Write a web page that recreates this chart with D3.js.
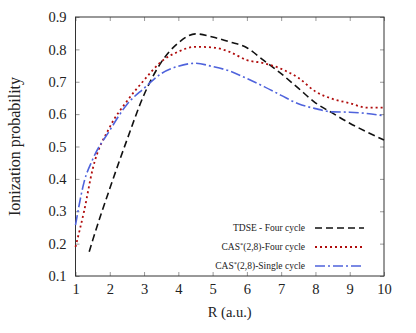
<!DOCTYPE html>
<html lang="en">
<head>
    <meta charset="UTF-8">
    <title>Ionization probability vs R</title>
    <script src="https://cdn.jsdelivr.net/npm/d3@7"></script>
    <style>
        body { margin: 0; background: #fff; }
    </style>
</head>
<body>
    <svg id="chart" width="416" height="333"></svg>

    <script>
        // values
        const rTdse = [1.4, 1.5, 2, 2.5, 3, 3.5, 4, 4.5, 5, 5.5, 6, 6.5, 7, 7.5, 8, 8.5, 9, 9.5, 10];
        const tdse = [0.175, 0.21, 0.37, 0.52, 0.66, 0.76, 0.82, 0.848, 0.838, 0.823, 0.805, 0.765, 0.725, 0.68, 0.635, 0.603, 0.572, 0.545, 0.52];

        const rCas = [1, 1.25, 1.5, 2, 2.5, 3, 3.5, 4, 4.5, 5, 5.5, 6, 6.5, 7, 7.5, 8, 8.5, 9, 9.5, 10];
        const casFour = [0.19, 0.30, 0.43, 0.56, 0.64, 0.705, 0.762, 0.793, 0.808, 0.806, 0.792, 0.767, 0.757, 0.740, 0.712, 0.670, 0.647, 0.634, 0.620, 0.62];
        const casSingle = [0.257, 0.39, 0.46, 0.55, 0.63, 0.68, 0.725, 0.748, 0.757, 0.747, 0.733, 0.71, 0.685, 0.658, 0.632, 0.617, 0.607, 0.606, 0.602, 0.595];

        const xTicks = [1, 2, 3, 4, 5, 6, 7, 8, 9, 10];
        const yTicks = [0.1, 0.2, 0.3, 0.4, 0.5, 0.6, 0.7, 0.8, 0.9];

        const seriesNames = ["TDSE - Four cycle", "CAS*(2,8)-Four cycle", "CAS*(2,8)-Single cycle"];

        const m = { left: 75.5, right: 384, top: 17, bottom: 276 };
        const serif = "'Liberation Serif', 'DejaVu Serif', serif";

        const svg = d3.select("#chart");

        const x = d3.scaleLinear().domain([1, 10]).range([m.left, m.right]);
        const y = d3.scaleLinear().domain([0.1, 0.9]).range([m.bottom, m.top]);

        // ticks inside the frame, on all four sides
        const tickCol = "#999";
        const gx = svg.append("g").attr("transform", `translate(0,${m.bottom})`)
            .call(d3.axisBottom(x).tickValues(xTicks).tickSizeInner(-4).tickSizeOuter(0).tickPadding(8).tickFormat(d3.format("d")));
        const gxt = svg.append("g").attr("transform", `translate(0,${m.top})`)
            .call(d3.axisTop(x).tickValues(xTicks).tickSizeInner(-4).tickSizeOuter(0).tickFormat(""));
        const gy = svg.append("g").attr("transform", `translate(${m.left},0)`)
            .call(d3.axisLeft(y).tickValues(yTicks).tickSizeInner(-4).tickSizeOuter(0).tickPadding(9).tickFormat(d3.format(".1f")));
        const gyr = svg.append("g").attr("transform", `translate(${m.right},0)`)
            .call(d3.axisRight(y).tickValues(yTicks).tickSizeInner(-4).tickSizeOuter(0).tickFormat(""));

        [gx, gxt, gy, gyr].forEach(g => {
            g.attr("font-family", serif);
            g.select(".domain").remove();
            g.selectAll(".tick line").attr("stroke", tickCol).attr("stroke-width", 1);
            g.selectAll(".tick text").attr("font-size", 14.5).attr("fill", "#222");
        });
        gx.selectAll(".tick text").attr("dy", "0.71em");

        svg.append("rect")
            .attr("x", m.left).attr("y", m.top)
            .attr("width", m.right - m.left).attr("height", m.bottom - m.top)
            .attr("fill", "none").attr("stroke", "#333").attr("stroke-width", 1);

        const styles = [
            { color: "#111", dash: "7,4", width: 1.6 },
            { color: "#b00c0c", dash: "2,3", width: 1.8 },
            { color: "#4f63dc", dash: "10,3,2,3", width: 1.6 }
        ];

        const line = d3.line().x(d => x(d[0])).y(d => y(d[1])).curve(d3.curveMonotoneX);

        const data = [
            d3.zip(rTdse, tdse),
            d3.zip(rCas, casFour),
            d3.zip(rCas, casSingle)
        ];

        data.forEach((pts, i) => {
            svg.append("path")
                .datum(pts)
                .attr("d", line)
                .attr("fill", "none")
                .attr("stroke", styles[i].color)
                .attr("stroke-width", styles[i].width)
                .attr("stroke-dasharray", styles[i].dash);
        });

        // legend, no frame
        const legend = svg.append("g").attr("font-family", serif);
        seriesNames.forEach((name, i) => {
            const ly = 228 + i * 19;
            const t = legend.append("text")
                .attr("x", 305).attr("y", ly)
                .attr("dy", "0.35em")
                .attr("text-anchor", "end")
                .attr("font-size", 9.5)
                .attr("fill", "#222");
            if (name.startsWith("CAS*")) {
                t.append("tspan").text("CAS");
                t.append("tspan").attr("baseline-shift", "super").attr("font-size", 6.5).text("*");
                t.append("tspan").text(name.slice(4));
            } else {
                t.text(name);
            }
            legend.append("line")
                .attr("x1", 315).attr("x2", 364)
                .attr("y1", ly).attr("y2", ly)
                .attr("stroke", styles[i].color)
                .attr("stroke-width", styles[i].width)
                .attr("stroke-dasharray", styles[i].dash);
        });

        svg.append("text")
            .attr("x", (m.left + m.right) / 2).attr("y", 317)
            .attr("text-anchor", "middle")
            .attr("font-family", serif)
            .attr("font-size", 14.5)
            .attr("fill", "#222")
            .text("R (a.u.)");

        svg.append("text")
            .attr("transform", `translate(20,${(m.top + m.bottom) / 2}) rotate(-90)`)
            .attr("text-anchor", "middle")
            .attr("font-family", serif)
            .attr("font-size", 16)
            .attr("fill", "#222")
            .text("Ionization probability");
    </script>
</body>
</html>
